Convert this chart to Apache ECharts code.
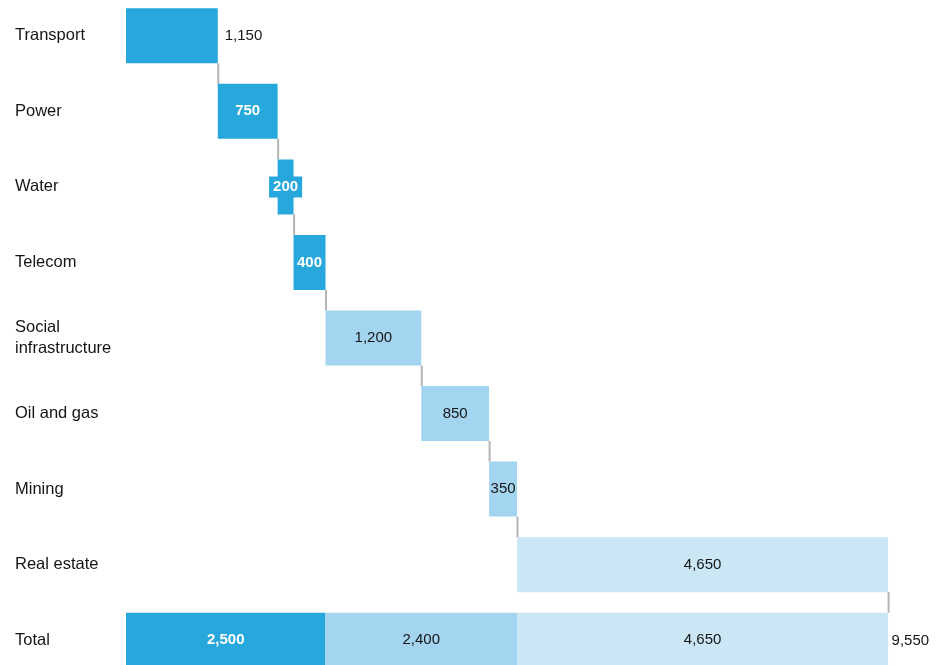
<!DOCTYPE html>
<html>
<head>
<meta charset="utf-8">
<script src="https://cdn.jsdelivr.net/npm/echarts@6/dist/echarts.min.js"></script>
<style>
  html, body { margin: 0; padding: 0; background: #fff; }
  #chart { width: 951px; height: 665px; }
</style>
</head>
<body>
<div id="chart"></div>
<script>
// 类目（自上而下）
const categories = ['Transport', 'Power', 'Water', 'Telecom', 'Social\ninfrastructure', 'Oil and gas', 'Mining', 'Real estate', 'Total'];
// 三组分项的数值，Total 行是各组合计
const groupDark = [1150, 750, 200, 400, '-', '-', '-', '-', 2500];
const groupMid = ['-', '-', '-', '-', 1200, 850, 350, '-', 2400];
const groupLight = ['-', '-', '-', '-', '-', '-', '-', 4650, 4650];
const totalValue = 9550;

const DARK = '#27a8dd';
const MID = '#a4d5f0';
const LIGHT = '#cbe7f5';
const TEXT = '#151515';

// 每行的增量（非 Total 行）
const steps = categories.slice(0, -1).map((c, i) => {
  const v = [groupDark[i], groupMid[i], groupLight[i]].find(x => x !== '-');
  return v;
});

// 透明底座 = 之前的累计
let running = 0;
const base = [];
const ends = [];
steps.forEach(v => {
  base.push(running);
  running += v;
  ends.push(running);
});
base.push(0);

const fmt = v => Number(v).toLocaleString('en-US');

// 标签样式：深色块里是白色粗体，浅色块里是深色常规
function labelFor(seriesName, i, v) {
  if (v === '-') return {};
  const cat = categories[i];
  if (cat === 'Transport') {
    return { show: true, position: 'right', distance: 7, color: TEXT, fontWeight: 'normal' };
  }
  if (cat === 'Water') {
    return { show: true, position: 'inside', color: '#fff', fontWeight: 'bold', backgroundColor: DARK, padding: [3, 4] };
  }
  if (seriesName === 'dark') {
    return { show: true, position: 'inside', color: '#fff', fontWeight: 'bold' };
  }
  return { show: true, position: 'inside', color: TEXT, fontWeight: 'normal' };
}

function makeData(name, arr) {
  return arr.map((v, i) => ({ value: v, label: labelFor(name, i, v) }));
}

const chart = echarts.init(document.getElementById('chart'), null, { renderer: 'canvas' });

const barW = 55;

chart.setOption({
  animation: false,
  textStyle: { fontFamily: 'Liberation Sans, Arial, sans-serif' },
  grid: { left: 126, right: 27, top: -2, height: 680, outerBoundsMode: 'none', containLabel: false },
  xAxis: {
    type: 'value', min: 0, max: 10000,
    show: false
  },
  yAxis: {
    type: 'category', data: categories, inverse: true,
    axisLine: { show: false }, axisTick: { show: false }, splitLine: { show: false },
    axisLabel: {
      align: 'left', margin: 111, color: TEXT, fontSize: 16.5, lineHeight: 21,
      padding: [2, 0, 0, 0],
      fontFamily: 'Liberation Sans, Arial, sans-serif'
    }
  },
  series: [
    {
      name: 'base', type: 'bar', stack: 'w', barWidth: barW, silent: true,
      itemStyle: { color: 'transparent' },
      data: base
    },
    {
      name: 'dark', type: 'bar', stack: 'w', barWidth: barW,
      itemStyle: { color: DARK },
      label: { fontSize: 15, formatter: p => fmt(p.value) },
      data: makeData('dark', groupDark)
    },
    {
      name: 'mid', type: 'bar', stack: 'w', barWidth: barW,
      itemStyle: { color: MID },
      label: { fontSize: 15, formatter: p => fmt(p.value) },
      data: makeData('mid', groupMid)
    },
    {
      name: 'light', type: 'bar', stack: 'w', barWidth: barW,
      itemStyle: { color: LIGHT },
      label: { fontSize: 15, formatter: p => fmt(p.value) },
      data: makeData('light', groupLight)
    },
    {
      // 合计值标签
      name: 'totalLabel', type: 'scatter', symbolSize: 1, silent: true,
      itemStyle: { color: 'transparent', opacity: 1 },
      data: [[totalValue, categories.length - 1]],
      label: {
        show: true, position: 'right', distance: 3, offset: [0, 1],
        color: TEXT, opacity: 1, fontSize: 15, formatter: p => fmt(p.value[0])
      }
    },
    {
      // 连接线：从上一根柱底到下一根柱顶
      name: 'connector', type: 'custom', silent: true,
      data: ends.map((x, i) => [x, i]),
      renderItem: (params, api) => {
        const x = api.value(0);
        const i = api.value(1);
        const p1 = api.coord([x, i]);
        const p2 = api.coord([x, i + 1]);
        return {
          type: 'line',
          shape: { x1: p1[0] + 0.5, y1: p1[1] + barW / 2, x2: p2[0] + 0.5, y2: p2[1] - barW / 2 },
          style: { stroke: '#b5b5b5', lineWidth: 2 }
        };
      },
      z: 1
    }
  ]
});
</script>
</body>
</html>
